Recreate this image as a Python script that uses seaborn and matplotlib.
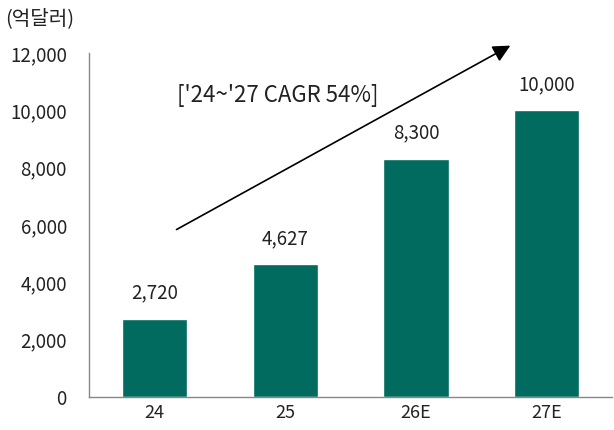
import matplotlib
matplotlib.use("Agg")
import matplotlib.pyplot as plt
import seaborn as sns
import pandas as pd

years = ["24", "25", "26E", "27E"]
values = [2720, 4627, 8300, 10000]
value_labels = ["2,720", "4,627", "8,300", "10,000"]
y_ticks = [0, 2000, 4000, 6000, 8000, 10000, 12000]
unit_label = "(억달러)"
cagr_label = "['24~'27 CAGR 54%]"

sns.set_theme(style="white")
plt.rcParams["font.family"] = ["Noto Sans CJK KR", "DejaVu Sans"]

df = pd.DataFrame({"year": years, "value": values})

fig = plt.figure(figsize=(6.14, 4.30), dpi=100)
ax = fig.add_axes([0.145, 0.077, 0.852, 0.800])

sns.barplot(df, x="year", y="value", color="#006B5E", saturation=1,
            width=0.5, ax=ax)
ax.bar_label(ax.containers[0], labels=value_labels, padding=11,
             fontsize=13.5, color="#222222")

ax.set_xlim(-0.5, 3.5)
ax.set_ylim(0, 12000)
ax.set_yticks(y_ticks)
ax.set_yticklabels([f"{v:,}" for v in y_ticks], fontsize=13.5, color="#222222")
ax.set_xlabel("")
ax.set_ylabel("")
ax.tick_params(axis="x", labelsize=13, colors="#222222", length=0, pad=5)
ax.tick_params(axis="y", length=5, color="#888888", direction="out", pad=11)

# x ticks between categories
ax.set_xticks([-0.5, 0.5, 1.5, 2.5], minor=True)
ax.tick_params(axis="x", which="minor", length=5, color="#888888",
               direction="out")

for s in ["top", "right"]:
    ax.spines[s].set_visible(False)
for s in ["left", "bottom"]:
    ax.spines[s].set_color("#888888")
    ax.spines[s].set_linewidth(1)

# growth arrow
ax.annotate("", xy=(2.74, 12300), xytext=(0.15, 5790),
            arrowprops=dict(arrowstyle="-|>", mutation_scale=26,
                            color="black", lw=1.2),
            annotation_clip=False)
ax.text(0.17, 10500, cagr_label, fontsize=16, color="#222222",
        ha="left", va="center")

fig.text(0.008, 0.956, unit_label, fontsize=14.5, color="#222222",
         ha="left", va="center")

fig.savefig("out.png", dpi=100)
